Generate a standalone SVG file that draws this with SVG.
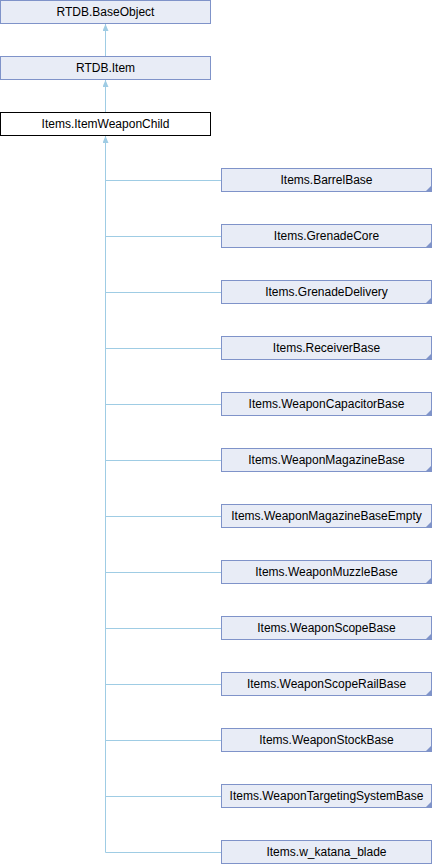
<svg xmlns="http://www.w3.org/2000/svg" width="432" height="864" viewBox="0 0 432 864">
<defs>
<style>
.n rect{fill:#E8ECF6;stroke:#7F93C9;stroke-width:1}
.n.cur rect{fill:#FFFFFF;stroke:#000000}
.n text{font-family:"Liberation Sans",Arial,sans-serif;font-size:12px;fill:#000;text-anchor:middle}
.n path{fill:#7F93C9}
.e{stroke:#9FCCE4;stroke-width:1;fill:none}
.ah{fill:#9FCCE4}
</style>
<marker id="arr" markerWidth="7" markerHeight="6" refX="7" refY="3" orient="auto" markerUnits="userSpaceOnUse" viewBox="0 0 7 6">
<path d="M0,0 L7,3 L0,6 Z" class="ah"/>
</marker>
</defs>
<rect width="432" height="864" fill="#FFFFFF"/>
<g id="connectors">
<path class="e" d="M105.5,56.5 V24" marker-end="url(#arr)"/>
<path class="e" d="M105.5,112.5 V80" marker-end="url(#arr)"/>
<path class="e" d="M105.5,852.5 V136" marker-end="url(#arr)"/>
<path class="e" d="M105.5,180.5 H221"/>
<path class="e" d="M105.5,236.5 H221"/>
<path class="e" d="M105.5,292.5 H221"/>
<path class="e" d="M105.5,348.5 H221"/>
<path class="e" d="M105.5,404.5 H221"/>
<path class="e" d="M105.5,460.5 H221"/>
<path class="e" d="M105.5,516.5 H221"/>
<path class="e" d="M105.5,572.5 H221"/>
<path class="e" d="M105.5,628.5 H221"/>
<path class="e" d="M105.5,684.5 H221"/>
<path class="e" d="M105.5,740.5 H221"/>
<path class="e" d="M105.5,796.5 H221"/>
<path class="e" d="M105.5,852.5 H221"/>
</g>
<g id="node_BaseObject" class="n"><rect x="0.5" y="0.5" width="210" height="23"/><text x="105.5" y="16">RTDB.BaseObject</text></g>
<g id="node_Item" class="n"><rect x="0.5" y="56.5" width="210" height="23"/><text x="105.5" y="72">RTDB.Item</text></g>
<g id="node_ItemWeaponChild" class="n cur"><rect x="0.5" y="112.5" width="210" height="23"/><text x="105.5" y="128">Items.ItemWeaponChild</text></g>
<g id="node_BarrelBase" class="n"><rect x="221.5" y="168.5" width="210" height="23"/><path d="M431,186 V191 H426 Z"/><text x="326.5" y="184">Items.BarrelBase</text></g>
<g id="node_GrenadeCore" class="n"><rect x="221.5" y="224.5" width="210" height="23"/><path d="M431,242 V247 H426 Z"/><text x="326.5" y="240">Items.GrenadeCore</text></g>
<g id="node_GrenadeDelivery" class="n"><rect x="221.5" y="280.5" width="210" height="23"/><path d="M431,298 V303 H426 Z"/><text x="326.5" y="296">Items.GrenadeDelivery</text></g>
<g id="node_ReceiverBase" class="n"><rect x="221.5" y="336.5" width="210" height="23"/><path d="M431,354 V359 H426 Z"/><text x="326.5" y="352">Items.ReceiverBase</text></g>
<g id="node_WeaponCapacitorBase" class="n"><rect x="221.5" y="392.5" width="210" height="23"/><path d="M431,410 V415 H426 Z"/><text x="326.5" y="408">Items.WeaponCapacitorBase</text></g>
<g id="node_WeaponMagazineBase" class="n"><rect x="221.5" y="448.5" width="210" height="23"/><path d="M431,466 V471 H426 Z"/><text x="326.5" y="464">Items.WeaponMagazineBase</text></g>
<g id="node_WeaponMagazineBaseEmpty" class="n"><rect x="221.5" y="504.5" width="210" height="23"/><path d="M431,522 V527 H426 Z"/><text x="326.5" y="520">Items.WeaponMagazineBaseEmpty</text></g>
<g id="node_WeaponMuzzleBase" class="n"><rect x="221.5" y="560.5" width="210" height="23"/><path d="M431,578 V583 H426 Z"/><text x="326.5" y="576">Items.WeaponMuzzleBase</text></g>
<g id="node_WeaponScopeBase" class="n"><rect x="221.5" y="616.5" width="210" height="23"/><path d="M431,634 V639 H426 Z"/><text x="326.5" y="632">Items.WeaponScopeBase</text></g>
<g id="node_WeaponScopeRailBase" class="n"><rect x="221.5" y="672.5" width="210" height="23"/><path d="M431,690 V695 H426 Z"/><text x="326.5" y="688">Items.WeaponScopeRailBase</text></g>
<g id="node_WeaponStockBase" class="n"><rect x="221.5" y="728.5" width="210" height="23"/><path d="M431,746 V751 H426 Z"/><text x="326.5" y="744">Items.WeaponStockBase</text></g>
<g id="node_WeaponTargetingSystemBase" class="n"><rect x="221.5" y="784.5" width="210" height="23"/><path d="M431,802 V807 H426 Z"/><text x="326.5" y="800">Items.WeaponTargetingSystemBase</text></g>
<g id="node_w_katana_blade" class="n"><rect x="221.5" y="840.5" width="210" height="23"/><text x="326.5" y="856">Items.w_katana_blade</text></g>
</svg>
